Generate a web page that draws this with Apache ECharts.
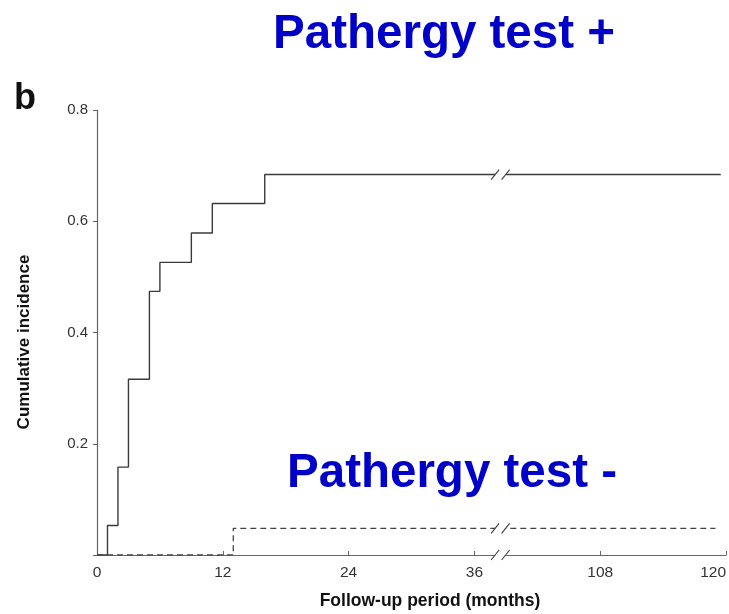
<!DOCTYPE html>
<html><head><meta charset="utf-8">
<script src="https://cdn.jsdelivr.net/npm/echarts@6/dist/echarts.min.js"></script>
<style>html,body{margin:0;padding:0;background:#fff}#c{width:729px;height:614px}</style>
</head><body><div id="c"></div>
<script>
// ---- data ----
const xTickLabels = ['0', '12', '24', '36', '108', '120'];
const yTickValues = [0, 0.2, 0.4, 0.6, 0.8];
const positiveMonths = [0, 1, 2, 3, 5, 6, 9, 11, 16, 119.5];
const positiveValues = [0, 0.053, 0.158, 0.316, 0.474, 0.526, 0.579, 0.632, 0.684, 0.684];
const negativeMonths = [0, 13, 119];
const negativeValues = [0, 0.048, 0.048];
const breakMonth = 51;          // where the axis break "//" is drawn
const breakLevels = [0, 0.048, 0.684];
const titlePos = 'Pathergy test +';
const titleNeg = 'Pathergy test -';

// broken-axis transform: 0..36 linear, 108..120 linear, 36..108 compressed
function toAxis(m) {
  if (m <= 36) return m;
  if (m >= 108) return m - 60;
  return 36 + (m - 36) / 6;
}
const posData = positiveMonths.map((m, i) => [toAxis(m), positiveValues[i]]);
const negData = negativeMonths.map((m, i) => [toAxis(m), negativeValues[i]]);
const breakData = breakLevels.map(v => [toAxis(breakMonth), v]);

const FONT = "'Liberation Sans', Arial, sans-serif";
const chart = echarts.init(document.getElementById('c'), null, {renderer: 'canvas'});
chart.setOption({
  backgroundColor: '#fff',
  animation: false,
  grid: {left: 97, right: 3, top: 110, bottom: 59, containLabel: false, outerBoundsMode: 'none'},
  xAxis: {
    type: 'value', min: 0, max: 60, interval: 12,
    axisLine: {lineStyle: {color: '#666', width: 1.2}},
    axisTick: {inside: true, length: 4, lineStyle: {color: '#666'}},
    axisLabel: {
      formatter: v => xTickLabels[Math.round(v / 12)],
      fontFamily: FONT, fontSize: 15.5, color: '#333', margin: 10,
      showMinLabel: true, showMaxLabel: true, hideOverlap: false,
      alignMaxLabel: 'right'
    },
    splitLine: {show: false}
  },
  yAxis: {
    type: 'value', min: yTickValues[0], max: yTickValues[yTickValues.length - 1], interval: 0.2,
    axisLine: {show: true, lineStyle: {color: '#666', width: 1.2}},
    axisTick: {show: true, inside: false, length: 4, lineStyle: {color: '#666'}},
    axisLabel: {
      formatter: v => (v === 0 ? '' : v.toFixed(1)),
      fontFamily: FONT, fontSize: 15, color: '#333', margin: 9
    },
    splitLine: {show: false}
  },
  series: [
    {
      type: 'line', step: 'end', data: posData, symbol: 'none', z: 3,
      lineStyle: {color: '#3a3a3a', width: 1.4}
    },
    {
      type: 'line', step: 'end', data: negData, symbol: 'none', z: 3,
      lineStyle: {color: '#444', width: 1.3, type: [6, 4]}
    },
    {
      type: 'custom', z: 5, data: breakData,
      renderItem: function (params, api) {
        const p = api.coord([api.value(0), api.value(1)]);
        const c = p[0], y = p[1];
        return {
          type: 'group',
          children: [
            {type: 'rect', shape: {x: c - 5.5, y: y - 3, width: 11, height: 6},
             style: {fill: '#fff'}},
            {type: 'line', shape: {x1: c - 9.5, y1: y + 5, x2: c - 1.5, y2: y - 5},
             style: {stroke: '#444', lineWidth: 1.2}},
            {type: 'line', shape: {x1: c + 1, y1: y + 5, x2: c + 9, y2: y - 5},
             style: {stroke: '#444', lineWidth: 1.2}}
          ]
        };
      }
    }
  ],
  graphic: [
    {type: 'text', x: 444, y: 35, style: {text: titlePos, font: 'bold 47.5px ' + FONT,
      fill: '#0000C8', align: 'center', verticalAlign: 'middle'}},
    {type: 'text', x: 452, y: 474, style: {text: titleNeg, font: 'bold 47.5px ' + FONT,
      fill: '#0000C8', align: 'center', verticalAlign: 'middle'}},
    {type: 'text', x: 14, y: 99, style: {text: 'b', font: 'bold 36px ' + FONT,
      fill: '#111', align: 'left', verticalAlign: 'middle'}},
    {type: 'text', x: 24, y: 342, rotation: Math.PI / 2,
      style: {text: 'Cumulative incidence', font: 'bold 17px ' + FONT,
      fill: '#111', align: 'center', verticalAlign: 'middle'}},
    {type: 'text', x: 430, y: 601, style: {text: 'Follow-up period (months)',
      font: 'bold 17.5px ' + FONT, fill: '#111', align: 'center', verticalAlign: 'middle'}}
  ]
});
</script></body></html>
